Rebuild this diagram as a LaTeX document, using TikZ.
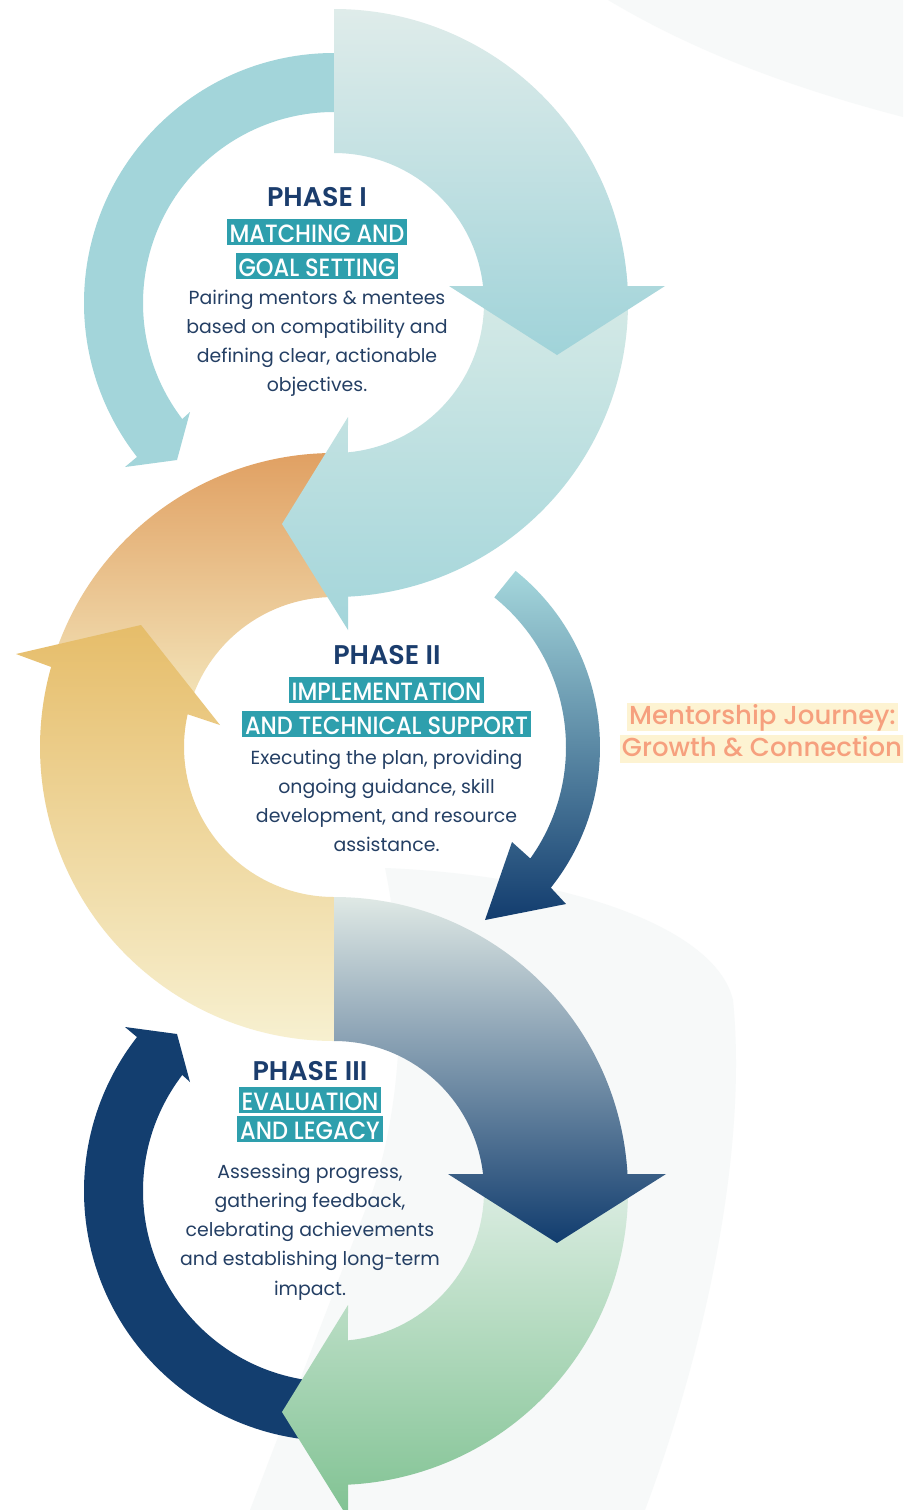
\documentclass[tikz,border=0pt]{standalone}
\usepackage{fontspec}
\setmainfont{Poppins}
\newfontfamily\headfont{Poppins SemiBold}
\newfontfamily\tagfont{Poppins Medium}[FakeStretch=0.9]
\newfontfamily\bodyfont{Poppins}
\newfontfamily\journeyfont{Poppins Medium}
\usetikzlibrary{calc}

\definecolor{phasenavy}{HTML}{1B3D6D}
\definecolor{bodynavy}{HTML}{243F64}
\definecolor{tagteal}{HTML}{2E9FAD}
\definecolor{salmon}{HTML}{F6A07E}
\definecolor{cream}{HTML}{FDF3D2}
\definecolor{bgfaint}{HTML}{F7F9F9}
\definecolor{tealA}{HTML}{A3D5DA}
\definecolor{tealBtop}{HTML}{DFECEA}
\definecolor{tealBbot}{HTML}{A0D3D9}
\definecolor{tealCtop}{HTML}{D8EBE7}
\definecolor{tealCbot}{HTML}{A3D5DA}
\definecolor{orangeDtop}{HTML}{E09F61}
\definecolor{orangeDbot}{HTML}{F3E4B9}
\definecolor{goldEtop}{HTML}{E6BD6A}
\definecolor{goldEbot}{HTML}{F7F0D0}
\definecolor{blueFtop}{HTML}{A5D7DC}
\definecolor{blueFmid}{HTML}{6796B2}
\definecolor{blueFbot}{HTML}{123C6E}
\definecolor{slateGtop}{HTML}{DFE9E5}
\definecolor{slateGmid}{HTML}{8896B3}
\definecolor{slateGbot}{HTML}{113C6E}
\definecolor{greenHtop}{HTML}{E2F0E8}
\definecolor{greenHbot}{HTML}{80C292}
\definecolor{navyI}{HTML}{133E6F}

\begin{document}
\begin{tikzpicture}[x=1pt,y=-1pt,
  phase/.style={font=\headfont\fontsize{27}{27}\selectfont, text=phasenavy, anchor=base, inner sep=0pt},
  tag/.style={font=\tagfont\fontsize{25}{25}\selectfont, text=white, fill=tagteal, anchor=base,
    inner xsep=3pt, inner ysep=0pt, text height=23pt, text depth=3pt},
  body/.style={font=\bodyfont\fontsize{18.9}{18.9}\selectfont, text=bodynavy, anchor=base, inner sep=0pt},
  journey/.style={font=\journeyfont\fontsize{26}{26}\selectfont, text=salmon, fill=cream, anchor=base,
    inner xsep=2pt, inner ysep=0pt, text height=21pt, text depth=7pt}]

\useasboundingbox (0,0) rectangle (903,1510);
\clip (0,0) rectangle (903,1510);
\fill[white] (0,0) rectangle (903,1510);

% faint background swooshes
\fill[bgfaint] (608,0) .. controls (700,55) and (800,90) .. (903,117) -- (903,0) -- cycle;
\fill[bgfaint] (385,868) .. controls (560,875) and (715,925) .. (733,1000)
  .. controls (748,1150) and (705,1350) .. (645,1510) -- (250,1510) -- (373,1190)
  .. controls (400,1110) and (410,990) .. (385,868) -- cycle;

% ring centres
\coordinate (c1) at (334,303);
\coordinate (c2) at (334,747);
\coordinate (c3) at (334,1191);
\coordinate (c2r) at (374,747);

% ---- ring 1 ----
% thin arrow, left side, running down
\fill[tealA] ($(c1)+(270:250)$) arc[start angle=270, end angle=142, radius=250]
  -- (125,467) -- (177,460) -- (190,412)
  -- ($(c1)+(142.6:191)$) arc[start angle=142.6, end angle=270, radius=191] -- cycle;

% ---- ring 2, upper left part (under the heads) ----
\shade[top color=orangeDtop, bottom color=orangeDbot]
  ($(c2)+(272:294)$) arc[start angle=272, end angle=200, radius=294]
  -- ($(c2)+(197:150)$) arc[start angle=197, end angle=272, radius=150] -- cycle;

% lower arc of ring 1, head pointing left
\shade[top color=tealCtop, bottom color=tealCbot]
  ($(c1)+(-6:294)$) arc[start angle=-6, end angle=87.27, radius=294]
  -- (348,630) -- (282,524) -- (348,417)
  -- ($(c1)+(84.65:150)$) arc[start angle=84.65, end angle=-6, radius=150] -- cycle;

% big arrow of ring 1, head pointing down
\shade[top color=tealBtop, bottom color=tealBbot]
  ($(c1)+(-90:294)$) arc[start angle=-90, end angle=-3.31, radius=294]
  -- (665,286) -- (557,355) -- (449,286)
  -- ($(c1)+(-6.51:150)$) arc[start angle=-6.51, end angle=-90, radius=150] -- cycle;

% ---- ring 2 ----
% golden arrow rising on the left
\shade[top color=goldEtop, bottom color=goldEbot]
  ($(c2)+(90:294)$) arc[start angle=90, end angle=195.8, radius=294]
  -- (16,654) -- (141,625) -- (220,725)
  -- ($(c2)+(192.6:150)$) arc[start angle=192.6, end angle=90, radius=150] -- cycle;

% thin arrow on the right, teal to navy
\shade[top color=blueFtop, middle color=blueFmid, bottom color=blueFbot]
  ($(c2r)+(-51.2:226)$) arc[start angle=-51.2, end angle=38.5, radius=226]
  -- (566,904) -- (485,920) -- (512,842)
  -- ($(c2r)+(35.5:192)$) arc[start angle=35.5, end angle=-51.2, radius=192] -- cycle;

% ---- ring 3 ----
% thin navy arrow rising on the left
\fill[navyI] ($(c3)+(80:250)$) arc[start angle=80, end angle=218, radius=250]
  -- (125,1027) -- (177,1034) -- (190,1082)
  -- ($(c3)+(217.4:191)$) arc[start angle=217.4, end angle=80, radius=191] -- cycle;

% green lower arc, head pointing left
\shade[top color=greenHtop, bottom color=greenHbot]
  ($(c3)+(-6:294)$) arc[start angle=-6, end angle=87.27, radius=294]
  -- (348,1518) -- (282,1412) -- (348,1305)
  -- ($(c3)+(84.65:150)$) arc[start angle=84.65, end angle=-6, radius=150] -- cycle;

% slate-to-navy big arrow, head pointing down
\shade[top color=slateGtop, middle color=slateGmid, bottom color=slateGbot]
  ($(c3)+(-90:294)$) arc[start angle=-90, end angle=-3.31, radius=294]
  -- (666,1174) -- (557,1243) -- (448,1174)
  -- ($(c3)+(-6.51:150)$) arc[start angle=-6.51, end angle=-90, radius=150] -- cycle;

% ---- texts ----
\node[phase] (ph1) at (317,206) {PHASE I};
\node[tag] (t1a) at (317,242) {MATCHING AND};
\node[tag] (t1b) at (317,276) {GOAL SETTING};
\foreach \t [count=\i, evaluate=\i as \yy using 304+(\i-1)*29.3] in
  {Pairing mentors \& mentees, based on compatibility and, {defining clear, actionable}, objectives.}
  \node[body] (b1-\i) at (317,\yy) {\t};

\node[phase] (ph2) at (387,664) {PHASE II};
\node[tag] (t2a) at (386.5,700) {IMPLEMENTATION};
\node[tag] (t2b) at (386.5,734) {AND TECHNICAL SUPPORT};
\foreach \t [count=\i, evaluate=\i as \yy using 764+(\i-1)*29.1] in
  {{Executing the plan, providing}, {ongoing guidance, skill}, {development, and resource}, assistance.}
  \node[body] (b2-\i) at (386.5,\yy) {\t};

\node[phase] (ph3) at (310,1080) {PHASE III};
\node[tag] (t3a) at (310,1110) {EVALUATION};
\node[tag] (t3b) at (310,1139) {AND LEGACY};
\foreach \t [count=\i, evaluate=\i as \yy using 1178+(\i-1)*29.3] in
  {{Assessing progress,}, {gathering feedback,}, celebrating achievements, and establishing long-term, impact.}
  \node[body] (b3-\i) at (310,\yy) {\t};

\node[journey] (j1) at (762.5,724) {Mentorship Journey:};
\node[journey] (j2) at (762,756) {Growth \& Connection};
\end{tikzpicture}
\end{document}
